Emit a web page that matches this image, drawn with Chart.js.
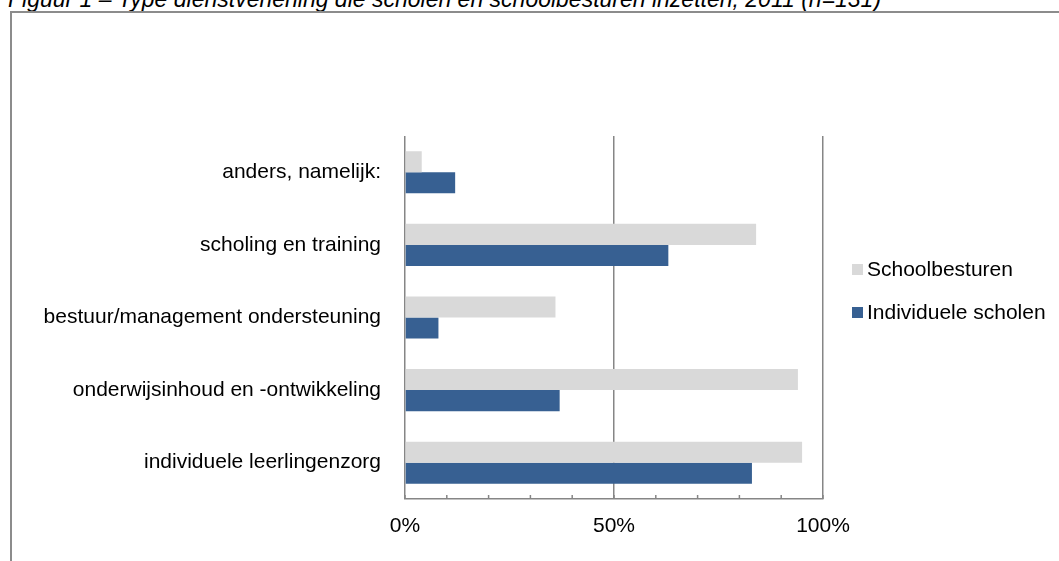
<!DOCTYPE html>
<html>
<head>
  <meta charset="utf-8">
  <script src="https://cdn.jsdelivr.net/npm/chart.js@4/dist/chart.umd.min.js"></script>
  <style>
    body { margin: 0; width: 1059px; height: 561px; overflow: hidden; background: #fff; font-family: "Liberation Sans", Arial, sans-serif; }
    #wrap { position: relative; width: 1059px; height: 561px; overflow: hidden; }
    #title { position: absolute; left: 8px; top: -12px; font-size: 23px; line-height: 23px; font-style: italic; white-space: nowrap; color: #000; }
    #frame { position: absolute; left: 10px; top: 11px; width: 1100px; height: 600px; border-top: 2px solid #8c8c8c; border-left: 2px solid #8c8c8c; }
    #myChart { position: absolute; left: 0; top: 0; }
    #legend { position: absolute; left: 852px; top: 257px; }
    .item { display: flex; align-items: center; height: 24px; margin-bottom: 19px; font-size: 21px; color: #000; white-space: nowrap; }
    .box { width: 11px; height: 11px; margin-right: 4px; }
  </style>
</head>
<body>
  <div id="wrap">
    <div id="title">Figuur 1 – Type dienstverlening die scholen en schoolbesturen inzetten, 2011 (n=131)</div>
    <div id="frame"></div>
    <canvas id="myChart" width="1059" height="561"></canvas>
    <div id="legend"></div>
  </div>
  <script>
    // categories top to bottom
    var categories = [
      "anders, namelijk:",
      "scholing en training",
      "bestuur/management ondersteuning",
      "onderwijsinhoud en -ontwikkeling",
      "individuele leerlingenzorg",
    ];
    var seriesNames = ["Schoolbesturen", "Individuele scholen"];
    var schoolbesturen = [4, 84, 36, 94, 95];
    var individueleScholen = [12, 63, 8, 37, 83];
    var xTicks = [0, 50, 100];
    var barColors = ["#d9d9d9", "#376092"];

    var gridColor = "#868686";
    var font = { family: "'Liberation Sans', Arial, sans-serif", size: 21 };

    // small upward tick marks every 10% on the bottom axis
    var minorTicks = {
      id: "minorTicks",
      afterDatasetsDraw(chart) {
        var x = chart.scales.x;
        var ctx = chart.ctx;
        ctx.save();
        ctx.strokeStyle = gridColor;
        ctx.lineWidth = 1.5;
        x.ticks.forEach(function (t) {
          var px = x.getPixelForValue(t.value);
          ctx.beginPath();
          ctx.moveTo(px, x.top);
          ctx.lineTo(px, x.top - 4);
          ctx.stroke();
        });
        ctx.restore();
      },
    };

    var chart = new Chart("myChart", {
      type: "bar",
      data: {
        labels: categories,
        datasets: [
          { label: seriesNames[0], data: schoolbesturen, backgroundColor: barColors[0] },
          { label: seriesNames[1], data: individueleScholen, backgroundColor: barColors[1] },
        ],
      },
      options: {
        indexAxis: "y",
        responsive: false,
        animation: false,
        layout: { padding: { top: 136, right: 236, left: 0, bottom: 0 } },
        datasets: { bar: { categoryPercentage: 0.58, barPercentage: 1 } },
        plugins: { legend: { display: false }, tooltip: { enabled: false } },
        scales: {
          x: {
            min: 0,
            max: 100,
            afterFit: function (s) { s.height = 62; },
            ticks: {
              stepSize: 10,
              autoSkip: false,
              maxRotation: 0,
              padding: 15,
              color: "#000",
              font: font,
              callback: function (v) { return xTicks.indexOf(v) > -1 ? v + "%" : ""; },
            },
            grid: {
              drawTicks: false,
              lineWidth: 1.5,
              color: function (c) { return xTicks.indexOf(c.tick.value) > -1 ? gridColor : "rgba(0,0,0,0)"; },
            },
            border: { display: true, color: gridColor, width: 1.5 },
          },
          y: {
            afterFit: function (s) { s.width = 405; },
            ticks: { padding: 24, color: "#000", font: font },
            grid: { display: false, drawTicks: false },
            border: { display: false },
          },
        },
      },
      plugins: [minorTicks],
    });

    // legend, right of the plot
    var legend = document.getElementById("legend");
    chart.data.datasets.forEach(function (ds) {
      var row = document.createElement("div");
      row.className = "item";
      row.innerHTML = '<span class="box" style="background:' + ds.backgroundColor + '"></span>' + ds.label;
      legend.appendChild(row);
    });
  </script>
</body>
</html>
